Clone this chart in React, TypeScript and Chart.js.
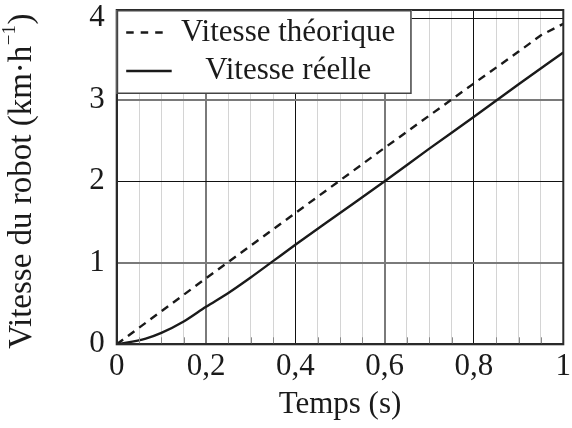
import React, { useEffect, useRef } from 'react';
import { Chart, registerables } from 'chart.js';

Chart.register(...registerables);

// ---- data ----
const timeTheory = [0, 0.2, 0.4, 0.6, 0.8, 0.9, 0.95, 1];
const speedTheory = [0, 0.81, 1.61, 2.41, 3.2, 3.59, 3.79, 3.93];

const timeReal = [0, 0.065, 0.1, 0.15, 0.2, 0.25, 0.3, 0.35, 0.4, 0.5, 0.6, 0.7, 0.8, 0.9, 1];
const speedReal = [0, 0.07, 0.14, 0.28, 0.46, 0.63, 0.82, 1.02, 1.22, 1.61, 2.0, 2.4, 2.79, 3.19, 3.58];

const xGridTicks = [0, 0.05, 0.1, 0.15, 0.2, 0.25, 0.3, 0.35, 0.4, 0.45, 0.5, 0.55, 0.6, 0.65, 0.7, 0.75, 0.8, 0.85, 0.9, 0.95, 1];
const xLabelTicks = [0, 0.2, 0.4, 0.6, 0.8, 1];
const yTicks = [0, 1, 2, 3, 4];

const seriesLabels = ['Vitesse théorique', 'Vitesse réelle'];
const xTitle = 'Temps (s)';
const yTitleMain = 'Vitesse du robot (km·h';
const yTitleSup = '−1';
const yTitleEnd = ')';

// ---- styles ----
const FONT = '"Liberation Serif", "Times New Roman", serif';
const TEXT = '#1a1a1a';
const FS = 31;

const near = (a: number, b: number) => Math.abs(a - b) < 1e-6;
const inList = (v: number, list: number[]) => list.some((t) => near(t, v));

const xDark = [0.4, 0.8];
const xMid = [0.2, 0.6];
const yDark = [2, 4];
const yMid = [1, 3];

const fmtX = (v: number) => {
  if (!inList(v, xLabelTicks)) return '';
  if (near(v, 0)) return '0';
  if (near(v, 1)) return '1';
  return v.toFixed(1).replace('.', ',');
};

const overlayPlugin = {
  id: 'overlay',
  afterDatasetsDraw(chart: any) {
    const { ctx, chartArea } = chart;
    const { left, right, top, bottom } = chartArea;
    ctx.save();
    // inner minor ticks at bottom
    const xs = chart.scales.x;
    ctx.strokeStyle = '#888';
    ctx.lineWidth = 1;
    xGridTicks.forEach((v) => {
      if (inList(v, xLabelTicks)) return;
      const px = Math.round(xs.getPixelForValue(v)) + 0.5;
      ctx.beginPath();
      ctx.moveTo(px, bottom);
      ctx.lineTo(px, bottom - 7);
      ctx.stroke();
    });
    // frame
    ctx.strokeStyle = '#2a2a2a';
    ctx.lineWidth = 2;
    ctx.strokeRect(left, top, right - left, bottom - top);

    // legend box
    const bw = 295;
    const bh = 84;
    ctx.fillStyle = '#ffffff';
    ctx.fillRect(left, top, bw, bh);
    ctx.strokeStyle = '#444';
    ctx.lineWidth = 1.5;
    ctx.strokeRect(left + 0.75, top + 0.75, bw - 1.5, bh - 1.5);

    const rows = [top + 22.5, top + 61];
    const samples = [
      [left + 9.5, left + 50],
      [left + 9.5, left + 55],
    ];
    chart.data.datasets.forEach((ds: any, i: number) => {
      ctx.beginPath();
      ctx.strokeStyle = ds.borderColor;
      ctx.lineWidth = ds.borderWidth;
      ctx.setLineDash(i === 0 ? [7.5, 7] : []);
      ctx.moveTo(samples[i][0], rows[i]);
      ctx.lineTo(samples[i][1], rows[i]);
      ctx.stroke();
      ctx.setLineDash([]);
      ctx.fillStyle = TEXT;
      ctx.font = `${FS}px ${FONT}`;
      ctx.textAlign = 'center';
      ctx.textBaseline = 'middle';
      ctx.fillText(ds.label, left + 171.5, rows[i]);
    });
    ctx.restore();
  },
  afterDraw(chart: any) {
    const { ctx, chartArea } = chart;
    const cy = (chartArea.top + chartArea.bottom) / 2 + 4;
    ctx.save();
    ctx.fillStyle = TEXT;
    ctx.textBaseline = 'middle';
    ctx.textAlign = 'left';
    const mainFont = `33px ${FONT}`;
    const supFont = `19px ${FONT}`;
    ctx.font = mainFont;
    const w1 = ctx.measureText(yTitleMain).width;
    const w3 = ctx.measureText(yTitleEnd).width;
    ctx.font = supFont;
    const w2 = ctx.measureText(yTitleSup).width;
    const total = w1 + w2 + w3 + 1;
    ctx.translate(22, cy);
    ctx.rotate(-Math.PI / 2);
    let x = -total / 2;
    ctx.font = mainFont;
    ctx.fillText(yTitleMain, x, 0);
    x += w1;
    ctx.font = supFont;
    ctx.fillText(yTitleSup, x + 0.5, -12);
    x += w2 + 1;
    ctx.font = mainFont;
    ctx.fillText(yTitleEnd, x, 0);
    ctx.restore();
  },
};

export default function App() {
  const ref = useRef<HTMLCanvasElement | null>(null);

  useEffect(() => {
    if (!ref.current) return;
    const chart = new Chart(ref.current, {
      type: 'line',
      data: {
        datasets: [
          {
            label: seriesLabels[0],
            data: timeTheory.map((t, i) => ({ x: t, y: speedTheory[i] })),
            borderColor: '#1a1a1a',
            borderWidth: 2.4,
            borderDash: [8, 6],
            pointRadius: 0,
            tension: 0,
            fill: false,
          },
          {
            label: seriesLabels[1],
            data: timeReal.map((t, i) => ({ x: t, y: speedReal[i] })),
            borderColor: '#1a1a1a',
            borderWidth: 2.4,
            pointRadius: 0,
            cubicInterpolationMode: 'monotone',
            fill: false,
          },
        ],
      },
      options: {
        animation: false,
        responsive: false,
        layout: { padding: { left: 0, right: 8.7, top: 10, bottom: 0 } },
        plugins: {
          legend: { display: false },
          tooltip: { enabled: false },
          title: { display: false },
        },
        scales: {
          x: {
            type: 'linear',
            min: 0,
            max: 1,
            afterBuildTicks: (s: any) => {
              s.ticks = xGridTicks.map((v) => ({ value: v }));
            },
            afterFit: (s: any) => {
              s.height = 83.7;
              s.paddingLeft = 0;
              s.paddingRight = 0;
            },
            ticks: {
              autoSkip: false,
              maxRotation: 0,
              padding: 4,
              color: TEXT,
              font: { family: FONT, size: FS, lineHeight: 1.2 },
              callback: (v: any) => fmtX(Number(v)),
            },
            grid: {
              drawTicks: false,
              color: (c: any) => {
                const v = c.tick ? c.tick.value : 0;
                if (near(v, 0) || near(v, 1)) return '#2a2a2a';
                if (inList(v, xDark)) return '#111111';
                if (inList(v, xMid)) return '#7a7a7a';
                return '#d4d4d4';
              },
              lineWidth: (c: any) => {
                const v = c.tick ? c.tick.value : 0;
                if (inList(v, xMid)) return 2;
                return 1;
              },
            },
            border: { display: true, color: '#2a2a2a', width: 2 },
            title: {
              display: true,
              text: xTitle,
              color: TEXT,
              font: { family: FONT, size: FS, lineHeight: 1.2 },
              padding: { top: 0, bottom: 4.4 },
            },
          },
          y: {
            type: 'linear',
            min: 0,
            max: 4.1,
            afterBuildTicks: (s: any) => {
              s.ticks = yTicks.map((v) => ({ value: v }));
            },
            afterFit: (s: any) => {
              s.width = 116.7;
              s.paddingTop = 0;
              s.paddingBottom = 0;
            },
            ticks: {
              padding: 12,
              color: TEXT,
              font: { family: FONT, size: FS, lineHeight: 1.2 },
              callback: (v: any) => String(v),
            },
            grid: {
              drawTicks: false,
              color: (c: any) => {
                const v = c.tick ? c.tick.value : 0;
                if (near(v, 0)) return '#2a2a2a';
                if (inList(v, yDark)) return '#111111';
                if (inList(v, yMid)) return '#7a7a7a';
                return '#d4d4d4';
              },
              lineWidth: (c: any) => {
                const v = c.tick ? c.tick.value : 0;
                if (inList(v, yMid)) return 2;
                return 1;
              },
            },
            border: { display: true, color: '#2a2a2a', width: 2 },
          },
        },
      },
      plugins: [overlayPlugin],
    } as any);
    return () => chart.destroy();
  }, []);

  return (
    <div style={{ position: 'fixed', left: 0, top: 0, width: 572, height: 428, background: '#fff' }}>
      <canvas ref={ref} width={572} height={428} style={{ display: 'block' }} />
    </div>
  );
}
